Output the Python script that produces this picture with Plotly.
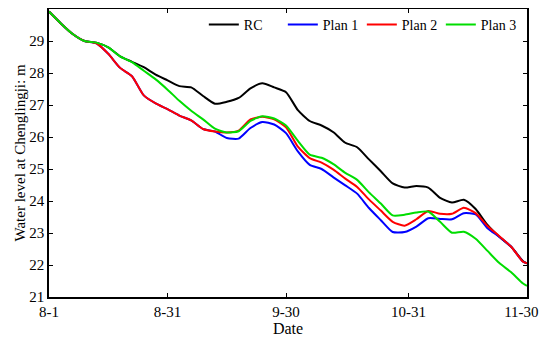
import plotly.graph_objects as go

# Days since Aug 1
days = [0, 3, 6, 9, 12, 15, 18, 21, 24, 27, 30, 33, 36, 39, 42, 45, 48, 51, 54, 57, 60,
        63, 66, 69, 72, 75, 78, 81, 84, 87, 90, 93, 96, 99, 102, 105, 108, 111, 114, 117, 120, 121]

rc = [29.92, 29.55, 29.22, 29.0, 28.95, 28.8, 28.52, 28.35, 28.18, 27.95, 27.77, 27.59, 27.55, 27.28,
      27.04, 27.1, 27.22, 27.52, 27.68, 27.55, 27.4, 26.84, 26.5, 26.36, 26.15, 25.82, 25.68, 25.3,
      24.93, 24.55, 24.42, 24.47, 24.42, 24.1, 23.95, 24.04, 23.75, 23.25, 22.88, 22.57, 22.12, 22.05]

plan1 = [29.92, 29.55, 29.22, 29.0, 28.93, 28.6, 28.16, 27.9, 27.3, 27.05, 26.87, 26.67, 26.52, 26.25,
         26.17, 25.97, 25.95, 26.28, 26.47, 26.39, 26.12, 25.55, 25.13, 25.0, 24.74, 24.49, 24.23, 23.78,
         23.4, 23.03, 23.03, 23.2, 23.46, 23.44, 23.43, 23.62, 23.58, 23.15, 22.88, 22.57, 22.1, 22.05]

plan2 = [29.92, 29.55, 29.22, 29.0, 28.93, 28.6, 28.16, 27.9, 27.3, 27.05, 26.87, 26.67, 26.52, 26.25,
         26.17, 26.14, 26.2, 26.55, 26.63, 26.55, 26.3, 25.7, 25.34, 25.2, 24.98, 24.7, 24.44, 24.05,
         23.7, 23.35, 23.23, 23.43, 23.69, 23.6, 23.6, 23.79, 23.62, 23.22, 22.9, 22.57, 22.1, 22.05]

plan3 = [29.92, 29.55, 29.22, 29.0, 28.95, 28.8, 28.52, 28.34, 28.07, 27.8, 27.48, 27.13, 26.82, 26.55,
         26.26, 26.14, 26.18, 26.5, 26.65, 26.58, 26.36, 25.88, 25.45, 25.35, 25.15, 24.88, 24.66, 24.27,
         23.92, 23.55, 23.57, 23.64, 23.67, 23.35, 23.01, 23.04, 22.82, 22.44, 22.06, 21.77, 21.42, 21.35]

tick_vals = [0, 30, 60, 91, 121]
# trailing no-break spaces nudge the last label left so it stays inside the visible page
tick_text = ["8-1", "8-31", "9-30", "10-31", "11-30\u00a0\u00a0\u00a0"]

series = [("RC", rc, "#000000"), ("Plan 1", plan1, "#0000ff"),
          ("Plan 2", plan2, "#ff0000"), ("Plan 3", plan3, "#00dd00")]

fig = go.Figure()
for name, vals, color in series:
    fig.add_trace(go.Scatter(x=days, y=vals, mode="lines", name=name,
                             line=dict(color=color, width=2, shape="spline", smoothing=0.6)))

SERIF = "Liberation Serif"
# page body adds an 8px offset, so the figure is 8px smaller and margins shifted
fig.update_layout(
    width=539, height=332,
    margin=dict(l=41, r=20, t=1, b=43),
    paper_bgcolor="white", plot_bgcolor="white",
    font=dict(family=SERIF, size=15, color="#000000"),
    legend=dict(orientation="h", x=0.985, xanchor="right", y=1.0, yanchor="top",
                bgcolor="rgba(0,0,0,0)", font=dict(family=SERIF, size=14),
                itemwidth=30, tracegroupgap=0, entrywidth=34, entrywidthmode="pixels"),
)
fig.update_xaxes(range=[0, 121], tickvals=tick_vals, ticktext=tick_text,
                 ticks="inside", ticklen=4, tickcolor="#000", tickwidth=1,
                 showline=True, linecolor="#000", linewidth=1.5, mirror="ticks",
                 showgrid=False, zeroline=False, automargin=False,
                 ticklabeloverflow="allow",
                 tickfont=dict(family=SERIF, size=15),
                 title=dict(text="Date", standoff=0, font=dict(family=SERIF, size=16)))
fig.update_yaxes(range=[21, 30], dtick=1,
                 ticks="inside", ticklen=4, tickcolor="#000", tickwidth=1,
                 showline=True, linecolor="#000", linewidth=1.5, mirror="ticks",
                 showgrid=False, zeroline=False, automargin=False,
                 tickfont=dict(family=SERIF, size=15),
                 title=dict(text="Water level at Chenglingji: m", standoff=0,
                            font=dict(family=SERIF, size=15)))

fig.write_html("out.html")
